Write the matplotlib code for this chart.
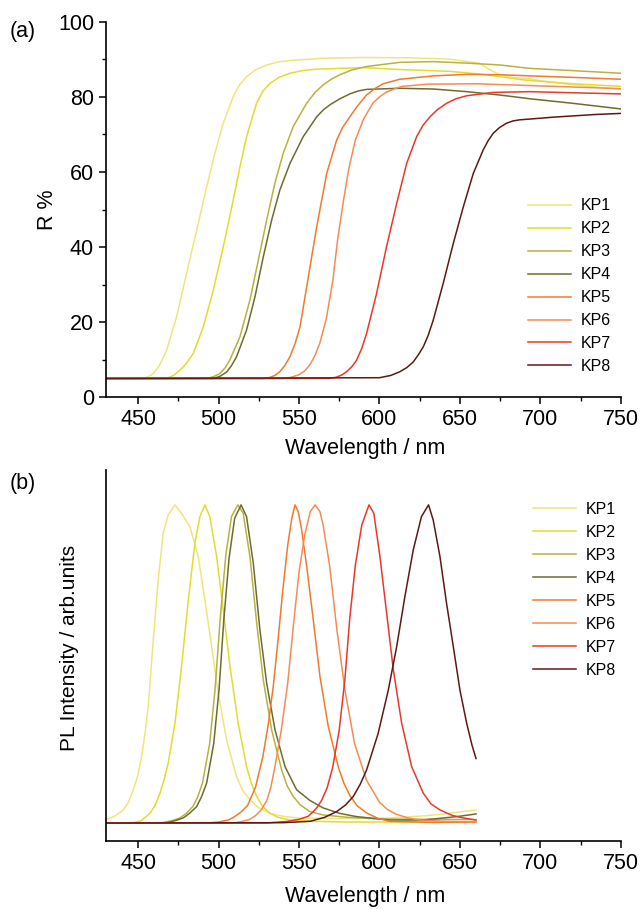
import matplotlib
matplotlib.use('Agg')
import matplotlib.pyplot as plt
from matplotlib.ticker import MultipleLocator

plt.rcParams['font.family'] = ['Liberation Sans', 'DejaVu Sans']

names = ['KP1', 'KP2', 'KP3', 'KP4', 'KP5', 'KP6', 'KP7', 'KP8']
colors = ['#eee67a', '#e2dc2e', '#b8b240', '#6e6c30',
          '#f07a2e', '#f58c55', '#e8392a', '#5c1a14']

# (a) 반사율 스펙트럼
r_wl = [
    [430, 452, 456, 459.4, 463, 467.7, 473.9, 480.1, 486.4, 492.6, 497.7, 502.9, 509.1, 513, 517.4, 523, 529.9, 537, 544.4, 565, 590, 620, 642.5, 662, 668.7, 675, 683, 693.5, 705, 725, 750],
    [430, 467.7, 472, 476, 480, 484.3, 490.5, 496.7, 502.9, 509.1, 513.3, 517.4, 523.6, 527.5, 531.9, 537.5, 544.4, 552, 561, 575.4, 590, 612.7, 643.8, 664.5, 690, 720, 750],
    [430, 492.6, 497, 500.8, 504, 507, 513.3, 519.5, 524.7, 529.9, 535, 540.2, 546.4, 554.7, 560, 565, 570, 575.4, 583, 592, 612.7, 633.4, 654.2, 674.9, 693.5, 720, 750],
    [430, 497, 501, 505, 508, 511.2, 517.4, 522.6, 527.8, 533, 538.1, 544.4, 552.6, 561, 565, 569.2, 575.4, 581.6, 587, 592, 612.7, 633.4, 654.2, 674.9, 693.5, 720, 750],
    [430, 528, 532, 535, 538, 541, 544.4, 547.5, 550.6, 555, 561, 567.2, 573.4, 577, 581.6, 586, 592, 597, 602.3, 612.7, 633.4, 654.2, 674.9, 693.5, 720, 750],
    [430, 540, 545, 550, 553.5, 557, 560, 563, 567, 571, 574, 577.5, 581, 585, 590, 596, 600, 604, 609, 614, 630, 660, 695, 750],
    [430, 568, 573, 576.5, 579.6, 583, 585.8, 589, 592, 598.2, 604.4, 610.7, 616.9, 623.1, 627, 631.4, 636, 641.7, 647.5, 654.2, 670.7, 693.5, 720, 750],
    [430, 600, 607, 612.7, 617, 621, 624, 627.2, 630.3, 633.4, 639.6, 645.9, 652.1, 658.3, 664.5, 667.5, 670.7, 674.5, 679, 683, 687.3, 693.5, 708, 733.5, 750],
]
r_val = [
    [5.0, 5.0, 5.4, 6.3, 8.3, 12.5, 21.4, 33, 44.5, 56, 65, 73, 80.1, 83.2, 85.4, 87.2, 88.5, 89.3, 89.7, 90.3, 90.5, 90.4, 90.1, 89, 87.2, 85.9, 85.2, 84.8, 84, 83, 82.0],
    [5.0, 5.0, 5.8, 7.2, 9.0, 11.7, 18.7, 28.5, 40, 52.5, 61.4, 69.4, 78.3, 81.5, 83.6, 85.2, 86.3, 87.0, 87.4, 87.6, 87.8, 87.3, 86.8, 86.0, 84.5, 83.5, 82.8],
    [5.0, 5.0, 5.5, 6.3, 7.8, 9.9, 16.1, 25.9, 36.5, 47.2, 57, 65, 72.1, 78.3, 81.2, 83.2, 84.7, 85.9, 87.2, 88.1, 89.2, 89.4, 89, 88.5, 87.6, 87, 86.3],
    [5.0, 5.0, 5.6, 6.7, 8.4, 10.8, 17.9, 26.7, 37.4, 47.2, 55.2, 62.3, 69.4, 74.7, 76.5, 77.9, 79.5, 80.8, 81.6, 82, 82.3, 82.1, 81.4, 80.5, 79.5, 78.3, 76.8],
    [5.0, 5.0, 5.3, 5.8, 6.8, 8.3, 10.8, 14.2, 18.7, 30, 45.4, 59.6, 68.5, 71.8, 74.7, 77.4, 80.5, 82.2, 83.5, 84.7, 85.6, 86, 85.9, 85.6, 85.2, 84.7],
    [5.0, 5.0, 5.3, 6.0, 7.0, 8.8, 11.2, 14.5, 21, 31, 42, 52, 61, 68.5, 74, 78.4, 80, 81.2, 82.1, 82.8, 83.4, 83.5, 83, 82.2],
    [5.0, 5.0, 5.3, 5.9, 6.8, 8.2, 9.9, 13, 17, 27.6, 40.1, 51.6, 62.3, 69.4, 72.4, 74.7, 76.6, 78.3, 79.5, 80.3, 81.2, 81.4, 81.1, 80.8],
    [5.0, 5.2, 5.8, 6.8, 7.9, 9.4, 11.2, 13.4, 16.5, 20.5, 30.3, 41, 50.7, 59.6, 65.9, 68.3, 70.3, 71.8, 73, 73.6, 73.9, 74.1, 74.6, 75.3, 75.6],
]

# (b) PL 스펙트럼 (임의 단위, 피크 = 100)
pl_wl = [
    [430, 435, 440.8, 444, 447, 449.8, 452.2, 454.3, 456.3, 459.4, 462.5, 465.6, 468.7, 472.9, 477, 482.2, 487.4, 491.5, 495.7, 499.8, 505, 511.2, 515, 519.5, 525, 532, 540, 548.5, 575, 606.5, 630, 645, 660],
    [430, 447, 452, 457.3, 460.5, 463.6, 466, 468.7, 472.9, 477, 481.2, 485.3, 488.4, 491.5, 494.6, 498.8, 502.9, 507.1, 512.2, 517.4, 520.5, 523.7, 527.5, 531.9, 537, 544.4, 560, 580, 660],
    [430, 465, 471, 476, 480, 484, 487, 490, 494.5, 497.8, 501, 504.5, 508, 512, 515.3, 519.5, 523.7, 527.8, 533, 539.2, 542.5, 546.4, 551, 556.8, 565, 580, 600, 660],
    [430, 468, 473, 478, 482, 486.4, 489.5, 492.6, 497, 500.3, 503.3, 506.5, 510, 514, 517.4, 521.6, 525.7, 529.9, 535.1, 541.3, 548.5, 556.8, 565, 575, 585.8, 606.5, 627.2, 648, 660],
    [430, 495, 500, 506, 510, 514, 518, 523, 527.5, 531, 534, 537, 540, 543, 545.5, 547.5, 549.5, 551.5, 554.7, 558.8, 563, 568.2, 574.4, 578, 581.6, 586, 592, 599, 606.5, 632, 660],
    [430, 510, 514, 519, 523, 526.5, 530, 532.5, 535, 539, 543, 546.5, 550, 553.5, 557, 560, 563, 565, 569, 573.5, 578.5, 584.5, 592, 600, 605, 610, 617, 625, 640, 660],
    [430, 530, 543, 550, 555.7, 558, 561, 564, 567.5, 571, 575, 578.5, 581.5, 585, 589, 593.5, 596.5, 600.3, 604.4, 608.6, 613.8, 620, 627.2, 632, 637.6, 645, 652.1, 660],
    [430, 540, 556.8, 566, 573.4, 579, 583.7, 588, 592, 599.2, 605.5, 610.7, 615.8, 621, 626.1, 630.5, 633.4, 637.6, 641.7, 645.9, 650, 654.2, 657.5, 660],
]
pl_val = [
    [6.3, 7.2, 9.2, 11.5, 15.2, 19.5, 25.1, 32, 40, 59.8, 77.7, 91.6, 97, 100, 97.5, 93.5, 84.6, 71.7, 57.8, 44, 30, 19.1, 15, 12.2, 9.8, 8.2, 7.3, 6.8, 6.6, 6.8, 7.5, 8.3, 9.2],
    [5.3, 5.4, 6.0, 8.2, 10.5, 14.2, 18, 23.1, 35, 51.9, 71.7, 88.6, 96.5, 100, 96.5, 84.6, 68.8, 51.9, 35, 22.1, 17, 13.2, 10.2, 8.2, 7.0, 6.2, 5.8, 5.6, 5.6],
    [5.3, 5.4, 6.0, 6.8, 8.2, 10.2, 13, 17.2, 29, 45, 66, 85, 96.5, 100, 97.5, 84.6, 64.8, 47.9, 33, 21.1, 16.5, 13.2, 10.6, 8.7, 7.7, 7.0, 6.5, 6.3],
    [5.3, 5.4, 6.0, 6.8, 8.2, 10.2, 13.2, 17.2, 29, 45, 66, 84, 96, 100, 96.5, 82.6, 62.8, 46.9, 33, 22.1, 15.2, 12, 9.8, 8.2, 7.2, 6.2, 6.2, 7.2, 8.0],
    [5.3, 5.4, 5.6, 6.2, 7.2, 8.6, 10.5, 16, 25, 35, 46, 60, 75, 88, 96, 100, 98, 93, 82, 66, 49, 34, 22, 17, 13.5, 10.5, 8.3, 6.7, 5.8, 5.5, 5.5],
    [5.3, 5.4, 5.7, 6.3, 7.5, 9.2, 12, 16, 22, 33, 47, 64, 80, 91, 98, 100, 98, 94, 82, 63, 45, 29, 18, 11.5, 9.3, 8, 6.9, 6.2, 5.8, 5.6],
    [5.3, 5.3, 5.8, 6.4, 7.3, 8.3, 9.8, 12, 15.8, 22, 33, 48, 66, 82, 94, 100, 97.5, 84.6, 68, 51, 35, 22.1, 14.2, 11, 9.2, 7.6, 6.8, 6.2],
    [5.3, 5.4, 5.8, 7.0, 8.7, 10.7, 13.2, 16.8, 21.1, 32, 44.9, 57.8, 72.7, 86.6, 96.5, 100, 95.5, 84.6, 70.7, 57.8, 44.9, 35, 28.5, 24.5],
]

fig = plt.figure(figsize=(6.42, 9.09), dpi=100)
ax1 = fig.add_axes([0.165, 0.563, 0.802, 0.413])
ax2 = fig.add_axes([0.165, 0.075, 0.802, 0.408])

for i in range(8):
    ax1.plot(r_wl[i], r_val[i], color=colors[i], lw=1.1, label=names[i])
    ax2.plot(pl_wl[i], pl_val[i], color=colors[i], lw=1.1, label=names[i])

for ax in (ax1, ax2):
    ax.spines['top'].set_visible(False)
    ax.spines['right'].set_visible(False)
    ax.spines['left'].set_linewidth(1.2)
    ax.spines['bottom'].set_linewidth(1.2)
    ax.set_xlim(430, 750)
    ax.set_xticks([450, 500, 550, 600, 650, 700, 750])
    ax.xaxis.set_minor_locator(MultipleLocator(25))
    ax.tick_params(which='major', direction='out', length=5, width=1.1, labelsize=15.5)
    ax.tick_params(which='minor', direction='out', length=3, width=1.0)

leg_kw = dict(loc='upper left', frameon=False, fontsize=11.5, handlelength=2.7,
              handletextpad=0.6, labelspacing=0.5, borderpad=0, borderaxespad=0,
              bbox_transform=fig.transFigure)
ax1.legend(bbox_to_anchor=(0.822, 0.782), **leg_kw)
ax2.legend(bbox_to_anchor=(0.830, 0.448), **leg_kw)

ax1.set_ylim(0, 100)
ax1.set_yticks([0, 20, 40, 60, 80, 100])
ax1.yaxis.set_minor_locator(MultipleLocator(10))
ax1.set_ylabel('R %', fontsize=15.5)
ax1.yaxis.set_label_coords(-0.093, 0.5)
ax1.set_xlabel('Wavelength / nm', fontsize=15.5)
ax1.xaxis.set_label_coords(0.503, -0.109)

ax2.set_ylim(0, 110.4)
ax2.set_yticks([])
ax2.set_ylabel('PL Intensity / arb.units', fontsize=15)
ax2.yaxis.set_label_coords(-0.052, 0.52)
ax2.set_xlabel('Wavelength / nm', fontsize=15.5)
ax2.xaxis.set_label_coords(0.503, -0.121)

fig.text(10 / 642, 1 - 31 / 909, '(a)', fontsize=15.5, va='center')
fig.text(10 / 642, 1 - 483 / 909, '(b)', fontsize=15.5, va='center')

fig.savefig('out.png', dpi=100)
